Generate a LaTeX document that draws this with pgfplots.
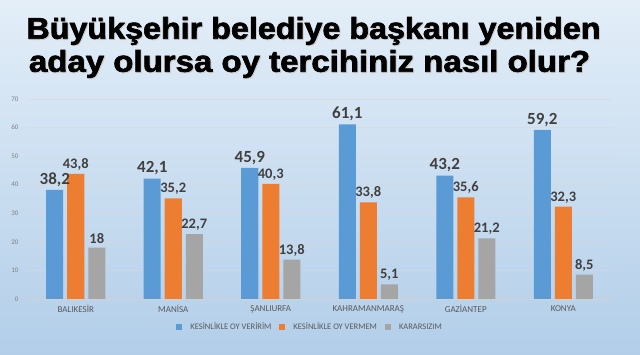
\documentclass[border=0pt]{standalone}
\usepackage{pgfplots}
\pgfplotsset{compat=1.18}
\usepackage{fontspec}
\setmainfont{Carlito}
\newfontfamily\titlefont[FakeBold=2]{Liberation Sans Bold}
\definecolor{cblue}{HTML}{5B9BD5}
\definecolor{corange}{HTML}{ED7D31}
\definecolor{cgray}{HTML}{A5A5A5}
\definecolor{lbl}{HTML}{404040}
\definecolor{tick}{HTML}{595959}
\definecolor{bgtop}{HTML}{E3EEF8}
\definecolor{bgbot}{HTML}{B2CEE9}
\begin{document}
\begin{tikzpicture}[x=1pt,y=1pt]
\useasboundingbox (0,0) rectangle (640,355);
\shade[top color=bgtop, bottom color=bgbot] (0,0) rectangle (640,355);
\node[font=\titlefont\fontsize{30}{32}\selectfont, text=black!20, xscale=1.076] at (314.5,323) {Büyükşehir belediye başkanı yeniden};
\node[font=\titlefont\fontsize{30}{32}\selectfont, text=black!20, xscale=1.10] at (310.5,290) {aday olursa oy tercihiniz nasıl olur?};
\node[font=\titlefont\fontsize{30}{32}\selectfont, text=black, xscale=1.076] at (313.5,324) {Büyükşehir belediye başkanı yeniden};
\node[font=\titlefont\fontsize{30}{32}\selectfont, text=black, xscale=1.10] at (309.5,291) {aday olursa oy tercihiniz nasıl olur?};
\begin{axis}[
  at={(27pt,56pt)}, anchor=south west,
  width=585pt, height=200pt, scale only axis,
  ybar=4pt, bar width=17pt,
  xmin=-0.5, xmax=5.5, ymin=0, ymax=70,
  xtick={0,1,2,3,4,5},
  xticklabels={BALIKESİR,MANİSA,ŞANLIURFA,KAHRAMANMARAŞ,GAZİANTEP,KONYA},
  ytick={0,10,...,70},
  /pgf/number format/assume math mode=true,
  yticklabel style={font=\fontsize{7}{8}\selectfont, text=gray, xshift=-5pt},
  xticklabel style={font=\fontsize{9}{10}\selectfont, text=tick, yshift=-3pt},
  major tick length=0pt,
  axis x line*=bottom, axis y line*=left,
  x axis line style={draw=black!18, line width=0.6pt, -},
  y axis line style={draw=none},
  ymajorgrids, major grid style={draw=black!15, opacity=0.6, line width=0.7pt},
  nodes near coords,
  nodes near coords style={font=\bfseries\fontsize{14.5}{16}\selectfont, text=lbl},
  /pgf/number format/use comma,
  legend style={at={(0.484,-0.14)}, anchor=center, legend columns=3, draw=none, fill=none,
    font=\fontsize{8.5}{10}\selectfont, text=tick, column sep=6pt},
  legend image code/.code={\fill[#1] (0pt,-3pt) rectangle (6pt,3pt);},
]
\addplot[fill=cblue, draw=none, every node near coord/.append style={font=\bfseries\fontsize{17}{19}\selectfont}] coordinates {(0,38.2) (1,42.1) (2,45.9) (3,61.1) (4,43.2) (5,59.2)};
\addplot[fill=corange, draw=none] coordinates {(0,43.8) (1,35.2) (2,40.3) (3,33.8) (4,35.6) (5,32.3)};
\addplot[fill=cgray, draw=none] coordinates {(0,18) (1,22.7) (2,13.8) (3,5.1) (4,21.2) (5,8.5)};
\legend{KESİNLİKLE OY VERİRİM, KESİNLİKLE OY VERMEM, KARARSIZIM}
\end{axis}
\end{tikzpicture}
\end{document}
